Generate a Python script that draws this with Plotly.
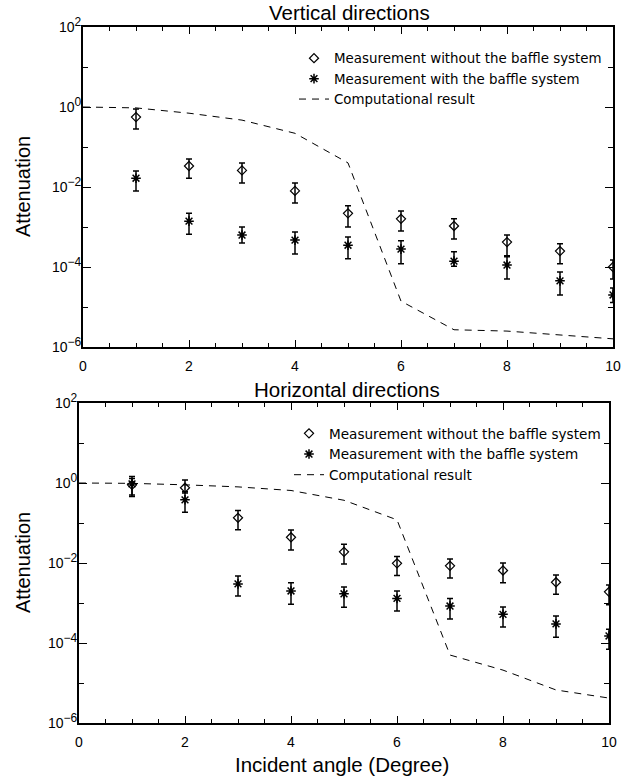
import plotly.graph_objects as go

# ---------------- data ----------------
angles = [1, 2, 3, 4, 5, 6, 7, 8, 9, 10]
line_angles = [0, 1, 2, 3, 4, 5, 6, 7, 8, 9, 10]

# Vertical directions
v_wo = [0.56, 0.0335, 0.026, 0.008, 0.0022, 0.0016, 0.00106, 0.00042, 0.00025, 0.0001]
v_wo_hi = [0.89, 0.050, 0.040, 0.0126, 0.0034, 0.0025, 0.0016, 0.00063, 0.00038, 0.00015]
v_wo_lo = [0.28, 0.0166, 0.0126, 0.004, 0.0010, 0.0008, 0.0005, 0.00019, 0.00012, 0.00005]
v_w = [0.0166, 0.0014, 0.00063, 0.00047, 0.00035, 0.00028, 0.00014, 0.000112, 0.000045, 0.00002]
v_w_hi = [0.025, 0.0022, 0.0010, 0.00075, 0.00056, 0.00045, 0.00024, 0.00018, 0.000075, 0.00003]
v_w_lo = [0.0079, 0.00066, 0.0004, 0.00021, 0.00016, 0.00012, 0.000105, 0.00005, 0.00002, 0.000013]
v_comp = [1.0, 0.95, 0.7, 0.47, 0.22, 0.04, 0.000014, 0.0000027, 0.0000025, 0.000002, 0.0000016]

# Horizontal directions
h_wo = [0.9, 0.76, 0.135, 0.044, 0.019, 0.0098, 0.0085, 0.0065, 0.0033, 0.0019]
h_wo_hi = [1.3, 1.19, 0.204, 0.067, 0.0295, 0.0145, 0.0126, 0.010, 0.005, 0.0028]
h_wo_lo = [0.5, 0.56, 0.068, 0.021, 0.0095, 0.0049, 0.0042, 0.0032, 0.00166, 0.0009]
h_w = [0.95, 0.38, 0.003, 0.002, 0.0017, 0.0013, 0.00084, 0.00052, 0.0003, 0.00015]
h_w_hi = [1.45, 0.6, 0.0047, 0.0032, 0.0025, 0.002, 0.0013, 0.0008, 0.00047, 0.00022]
h_w_lo = [0.46, 0.186, 0.0015, 0.00093, 0.00078, 0.00063, 0.0004, 0.00025, 0.00014, 0.00007]
h_comp = [1.0, 0.98, 0.9, 0.8, 0.65, 0.37, 0.12, 0.00005, 0.000021, 0.0000067, 0.0000042]

titles = ["Vertical directions", "Horizontal directions"]
names = ["Measurement without the baffle system",
         "Measurement with the baffle system",
         "Computational result"]
ytitle = "Attenuation"
xtitle = "Incident angle (Degree)"
ytickvals = [1e-6, 1e-4, 1e-2, 1, 1e2]
yexponents = ["\u22126", "\u22124", "\u22122", "0", "2"]
yminor = [1e-5, 1e-3, 1e-1, 1e1]
xtickvals = [0, 2, 4, 6, 8, 10]

yticktext = ["10<sup><span style='font-size:12px'>%s</span></sup>" % e for e in yexponents]

W, H = 628, 778
FONT = "Liberation Sans, Arial, sans-serif"
LFONT = "DejaVu Sans, sans-serif"

fig = go.Figure()

panels = [
    dict(wo=v_wo, wo_hi=v_wo_hi, wo_lo=v_wo_lo, w=v_w, w_hi=v_w_hi, w_lo=v_w_lo,
         comp=v_comp, xa="x", ya="y", legend="legend"),
    dict(wo=h_wo, wo_hi=h_wo_hi, wo_lo=h_wo_lo, w=h_w, w_hi=h_w_hi, w_lo=h_w_lo,
         comp=h_comp, xa="x2", ya="y2", legend="legend2"),
]

for p in panels:
    fig.add_trace(go.Scatter(
        x=angles, y=p["wo"], mode="markers", name=names[0],
        xaxis=p["xa"], yaxis=p["ya"], legend=p["legend"],
        marker=dict(symbol="diamond-open", size=7, color="black", line=dict(width=1.2)),
        error_y=dict(type="data", symmetric=False,
                     array=[h - v for h, v in zip(p["wo_hi"], p["wo"])],
                     arrayminus=[v - l for l, v in zip(p["wo_lo"], p["wo"])],
                     color="black", thickness=1.5, width=3),
    ))
    fig.add_trace(go.Scatter(
        x=angles, y=p["w"], mode="markers", name=names[1],
        xaxis=p["xa"], yaxis=p["ya"], legend=p["legend"],
        marker=dict(symbol="asterisk-open", size=8, color="black", line=dict(width=1.5, color="black")),
        error_y=dict(type="data", symmetric=False,
                     array=[h - v for h, v in zip(p["w_hi"], p["w"])],
                     arrayminus=[v - l for l, v in zip(p["w_lo"], p["w"])],
                     color="black", thickness=1.5, width=3),
    ))
    fig.add_trace(go.Scatter(
        x=line_angles, y=p["comp"], mode="lines", name=names[2],
        xaxis=p["xa"], yaxis=p["ya"], legend=p["legend"],
        line=dict(color="black", width=1, dash="7px,6px"),
    ))

def xaxis_cfg(domain, anchor):
    return dict(domain=domain, anchor=anchor, range=[0, 10], tickvals=xtickvals,
                automargin=False, ticklabelstandoff=5,
                ticks="inside", ticklen=7, tickwidth=1, tickcolor="black",
                showline=True, linecolor="black", linewidth=2, mirror="ticks",
                showgrid=False, zeroline=False,
                tickfont=dict(family=FONT, size=14, color="black"),
                minor=dict(dtick=0.5, ticks="inside", ticklen=4, tickcolor="black", showgrid=False))

def yaxis_cfg(domain, anchor):
    return dict(domain=domain, anchor=anchor, type="log", range=[-6, 2],
                tickvals=ytickvals, ticktext=yticktext, automargin=False,
                ticklabelstandoff=-3,
                ticks="inside", ticklen=8, tickwidth=1, tickcolor="black",
                showline=True, linecolor="black", linewidth=2, mirror="ticks",
                showgrid=False, zeroline=False,
                tickfont=dict(family=FONT, size=14, color="black"),
                minor=dict(tickmode="array", tickvals=yminor, ticks="inside", ticklen=5,
                           tickcolor="black", showgrid=False))

fig.update_layout(
    width=W, height=H,
    margin=dict(l=0, r=0, t=0, b=0),
    paper_bgcolor="white", plot_bgcolor="white",
    xaxis=xaxis_cfg([83 / W, 613 / W], "y"),
    yaxis=yaxis_cfg([1 - 347 / H, 1 - 27 / H], "x"),
    xaxis2=xaxis_cfg([79 / W, 609 / W], "y2"),
    yaxis2=yaxis_cfg([1 - 723 / H, 1 - 403 / H], "x2"),
    legend=dict(x=294 / W, y=1 - 43 / H, xanchor="left", yanchor="top",
                bgcolor="rgba(0,0,0,0)", font=dict(family=LFONT, size=13.4, color="black"),
                itemwidth=30, tracegroupgap=0),
    legend2=dict(x=289 / W, y=1 - 418 / H, xanchor="left", yanchor="top",
                 bgcolor="rgba(0,0,0,0)", font=dict(family=LFONT, size=13.6, color="black"),
                 itemwidth=30, tracegroupgap=0),
    showlegend=True,
)

# panel titles
fig.add_annotation(text=titles[0], x=349 / W, y=1 - 13 / H, xref="paper", yref="paper",
                   xanchor="center", yanchor="middle", showarrow=False,
                   font=dict(family=FONT, size=20.5, color="black"))
fig.add_annotation(text=titles[1], x=347 / W, y=1 - 390 / H, xref="paper", yref="paper",
                   xanchor="center", yanchor="middle", showarrow=False,
                   font=dict(family=FONT, size=20.5, color="black"))
# axis titles
for yc in [187, 563]:
    fig.add_annotation(text=ytitle, x=23 / W, y=1 - yc / H, xref="paper", yref="paper",
                       xanchor="center", yanchor="middle", textangle=-90, showarrow=False,
                       font=dict(family=FONT, size=20, color="black"))
fig.add_annotation(text=xtitle, x=342 / W, y=1 - 764 / H, xref="paper", yref="paper",
                   xanchor="center", yanchor="middle", showarrow=False,
                   font=dict(family=FONT, size=20.5, color="black"))

fig.write_html("out.html")
